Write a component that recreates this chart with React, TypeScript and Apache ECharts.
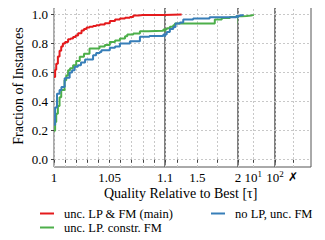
import React, { useEffect, useRef } from "react";
import * as echarts from "echarts";

// [tau, fraction] step points
const redData: number[][] = [
  [1.0, 0.57], [1.001, 0.62], [1.002, 0.66], [1.0035, 0.71], [1.005, 0.75], [1.0065, 0.78],
  [1.008, 0.8], [1.01, 0.81], [1.0127, 0.83], [1.015, 0.835], [1.0172, 0.845], [1.0195, 0.855],
  [1.0217, 0.87], [1.0248, 0.89], [1.027, 0.9], [1.0293, 0.91], [1.032, 0.915], [1.0352, 0.92],
  [1.038, 0.925], [1.0413, 0.93], [1.0458, 0.94], [1.0503, 0.955], [1.055, 0.965], [1.0594, 0.972],
  [1.064, 0.978], [1.0684, 0.983], [1.0714, 0.992], [1.076, 0.996], [1.08, 1.0], [1.305, 1.0],
];
const greenData: number[][] = [
  [1.0, 0.2], [1.001, 0.26], [1.002, 0.317], [1.0035, 0.37], [1.005, 0.43], [1.0065, 0.48],
  [1.0095, 0.547], [1.011, 0.58], [1.0127, 0.616], [1.0145, 0.63], [1.0172, 0.65], [1.02, 0.68],
  [1.0232, 0.708], [1.027, 0.73], [1.032, 0.766], [1.041, 0.78], [1.0458, 0.79], [1.0503, 0.81],
  [1.055, 0.82], [1.0594, 0.834], [1.064, 0.85], [1.066, 0.862], [1.0714, 0.869], [1.0774, 0.885],
  [1.085, 0.888], [1.0985, 0.897], [1.121, 0.905], [1.16, 0.915], [1.202, 0.925], [1.223, 0.938],
  [1.693, 0.938], [1.714, 0.965], [1.8, 0.975], [1.9, 0.982], [1.98, 0.988], [3.0, 0.99],
  [5.0, 0.993], [8.0, 0.997], [10.67, 1.0],
];
const blueData: number[][] = [
  [1.0, 0.24], [1.001, 0.36], [1.0027, 0.455], [1.005, 0.48], [1.0067, 0.5], [1.0096, 0.56],
  [1.0115, 0.565], [1.0141, 0.6], [1.0163, 0.616], [1.0186, 0.64], [1.0215, 0.65], [1.0243, 0.67],
  [1.028, 0.69], [1.0352, 0.72], [1.038, 0.735], [1.0413, 0.742], [1.0427, 0.754], [1.0503, 0.77],
  [1.055, 0.78], [1.0594, 0.8], [1.0684, 0.816], [1.0774, 0.846], [1.086, 0.852], [1.0985, 0.862],
  [1.121, 0.88], [1.16, 0.899], [1.202, 0.914], [1.23, 0.938], [1.284, 0.945], [1.325, 0.966],
  [1.447, 0.972], [1.65, 0.98], [1.98, 0.99], [2.5, 0.995], [3.41, 1.0],
];

const seriesNames = ["unc. LP & FM (main)", "unc. LP, constr. FM", "no LP, unc. FM"];
const seriesColors = ["#e41a1c", "#4daf4a", "#377eb8"];
const yTicks = [0, 0.2, 0.4, 0.6, 0.8, 1.0];
const seg2Ticks = [1.25, 1.5, 1.75, 2];
const seg2Labels = [1.5, 2];
const seg3Ticks = [10, 100];
const seg4Ticks = [1];

const FONT = "Liberation Serif";

export default function App() {
  const ref = useRef<HTMLDivElement>(null);
  useEffect(() => {
    const chart = echarts.init(ref.current!, null, { renderer: "svg" });
    const top = 5;
    const height = 162;
    const grids = [
      { left: 54, width: 111 },
      { left: 165, width: 73 },
      { left: 238, width: 37 },
      { left: 275, width: 36 },
    ].map((g) => ({
      ...g,
      top,
      height,
      show: true,
      borderColor: "#555",
      borderWidth: 1,
      backgroundColor: "transparent",
    }));
    const gridLine = { show: true, lineStyle: { color: "#c8c8c8", type: [2, 2], width: 1 } };
    const tickStyle = { length: 3, lineStyle: { color: "#444", width: 1 } };
    const labelStyle = { color: "#000", fontFamily: FONT, fontSize: 13, margin: 4 };
    const near = (a: number, b: number) => Math.abs(a - b) < 1e-6;

    const yAxes = grids.map((_, i) => ({
      type: "value",
      gridIndex: i,
      min: -0.05,
      max: 1.065,
      name: i === 0 ? "Fraction of Instances" : "",
      nameLocation: "middle",
      nameGap: 29,
      nameTextStyle: { fontFamily: FONT, fontSize: 14, color: "#000" },
      axisLine: { show: false },
      axisTick: { show: i === 0, customValues: yTicks, ...tickStyle },
      axisLabel: {
        show: i === 0,
        customValues: yTicks,
        formatter: (v: number) => v.toFixed(1),
        ...labelStyle,
        margin: 6,
      },
      splitLine: gridLine,
    }));

    const xAxes: any[] = [
      {
        type: "value",
        gridIndex: 0,
        min: 1,
        max: 1.1,
        interval: 0.01,
        axisLine: { show: false },
        axisTick: { show: true, ...tickStyle },
        axisLabel: {
          ...labelStyle,
          interval: 0,
          showMinLabel: true,
          showMaxLabel: true,
          formatter: (v: number) =>
            near(v, 1) ? "1" : near(v, 1.05) ? "1.05" : near(v, 1.1) ? "1.1" : "",
        },
        splitLine: gridLine,
      },
      {
        type: "value",
        gridIndex: 1,
        min: 1.1,
        max: 2,
        axisLine: { show: false },
        axisTick: { show: true, customValues: seg2Ticks, ...tickStyle },
        axisLabel: {
          ...labelStyle,
          customValues: seg2Labels,
          formatter: (v: number) => String(v),
        },
        splitLine: gridLine,
      },
      {
        type: "log",
        logBase: 10,
        gridIndex: 2,
        min: 2,
        max: 100,
        axisLine: { show: false },
        axisTick: { show: true, customValues: seg3Ticks, ...tickStyle },
        axisLabel: {
          ...labelStyle,
          margin: 2,
          customValues: seg3Ticks,
          formatter: (v: number) => (near(v, 10) ? "{b|10}{s|1}" : "{b|10}{s|2}"),
          rich: {
            b: { fontFamily: FONT, fontSize: 13, color: "#000", verticalAlign: "bottom", lineHeight: 15 },
            s: { fontFamily: FONT, fontSize: 9, color: "#000", verticalAlign: "top", lineHeight: 15 },
          },
        },
        splitLine: gridLine,
      },
      {
        type: "value",
        gridIndex: 3,
        min: 0,
        max: 2,
        axisLine: { show: false },
        axisTick: { show: true, customValues: seg4Ticks, ...tickStyle },
        axisLabel: {
          ...labelStyle,
          customValues: seg4Ticks,
          fontFamily: "DejaVu Sans",
          fontWeight: "bold",
          fontSize: 12,
          formatter: () => "✗",
        },
        splitLine: gridLine,
      },
    ];

    const datasets = [redData, greenData, blueData];
    const series: any[] = [];
    const drawOrder = [1, 2, 0];
    for (let g = 0; g < 3; g++) {
      for (const s of drawOrder) {
        series.push({
          type: "line",
          name: seriesNames[s],
          xAxisIndex: g,
          yAxisIndex: g,
          data: datasets[s],
          step: "end",
          showSymbol: false,
          symbol: "none",
          clip: true,
          color: seriesColors[s],
          lineStyle: { width: 2, color: seriesColors[s] },
          z: 3,
        });
      }
    }

    const legendCommon = {
      orient: "horizontal",
      padding: 0,
      itemGap: 0,
      itemWidth: 14,
      itemHeight: 2,
      icon: "rect",
      selectedMode: false,
      textStyle: { fontFamily: FONT, fontSize: 12.5, color: "#000", lineHeight: 13, padding: [0, 0, 0, 5] },
    };

    chart.setOption({
      animation: false,
      backgroundColor: "#fff",
      grid: grids,
      xAxis: xAxes,
      yAxis: yAxes,
      series,
      legend: [
        { ...legendCommon, left: 40, top: 207, data: [seriesNames[0]] },
        { ...legendCommon, left: 40, top: 221, data: [seriesNames[1]] },
        { ...legendCommon, left: 211, top: 207, data: [seriesNames[2]] },
      ],
      graphic: [
        {
          type: "text",
          left: 104,
          top: 186,
          style: {
            text: "Quality Relative to Best [τ]",
            fontFamily: FONT,
            fontSize: 14,
            fill: "#000",
          },
        },
      ],
    });
    return () => chart.dispose();
  }, []);
  return <div ref={ref} style={{ width: 325, height: 240, margin: -8 }} />;
}
